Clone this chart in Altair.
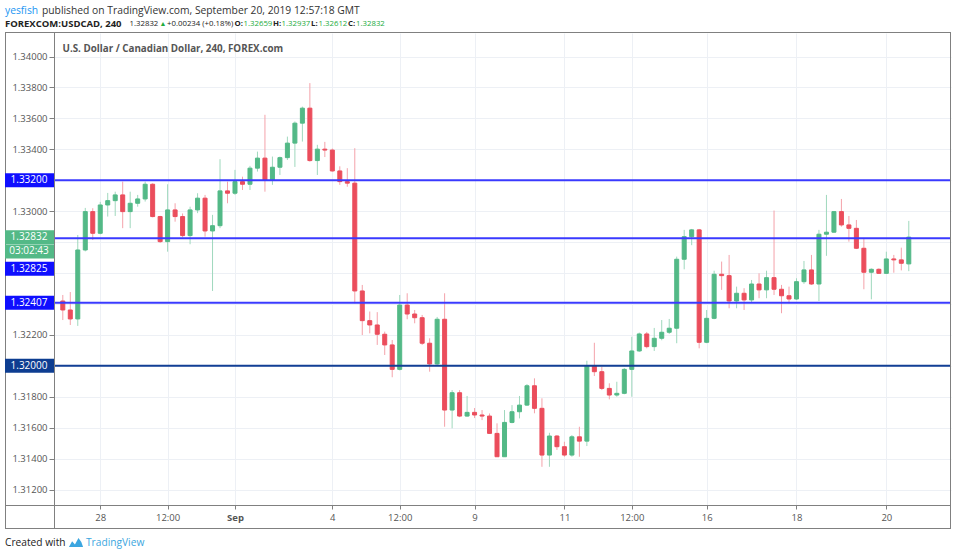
import altair as alt
import pandas as pd

# ---------------- data ----------------
opens = [1.32419, 1.32361, 1.32303, 1.32749, 1.32997, 1.32857, 1.33040, 1.33068, 1.33105, 1.32997,
         1.33051, 1.33079, 1.33174, 1.32965, 1.32803, 1.33008, 1.32965, 1.32842, 1.33008, 1.33084,
         1.32872, 1.32906, 1.33131, 1.33116, 1.33191, 1.33174, 1.33278, 1.33343, 1.33202, 1.33284,
         1.33346, 1.33440, 1.33569, 1.33666, 1.33327, 1.33401, 1.33395, 1.33260, 1.33191, 1.33181,
         1.32484, 1.32292, 1.32264, 1.32204, 1.32135, 1.31977, 1.32393, 1.32335, 1.32311, 1.32146,
         1.32012, 1.32301, 1.31714, 1.31826, 1.31675, 1.31699, 1.31682, 1.31675, 1.31563, 1.31412,
         1.31634, 1.31703, 1.31746, 1.31871, 1.31725, 1.31423, 1.31546, 1.31477, 1.31423, 1.31541,
         1.31513, 1.31999, 1.31962, 1.31854, 1.31811, 1.31822, 1.31977, 1.32096, 1.32206, 1.32124,
         1.32178, 1.32217, 1.32243, 1.32689, 1.32835, 1.32879, 1.32152, 1.32307, 1.32592, 1.32583,
         1.32419, 1.32469, 1.32426, 1.32529, 1.32491, 1.32570, 1.32495, 1.32453, 1.32432, 1.32544,
         1.32620, 1.32529, 1.32851, 1.32864, 1.32997, 1.32911, 1.32889, 1.32760, 1.32605, 1.32624,
         1.32598, 1.32691, 1.32685, 1.32659]
highs = [1.32458, 1.32477, 1.32846, 1.33021, 1.33019, 1.33060, 1.33118, 1.33126, 1.33191, 1.33126,
         1.33105, 1.33191, 1.33180, 1.32970, 1.33174, 1.33051, 1.32985, 1.33029, 1.33116, 1.33105,
         1.32976, 1.33336, 1.33191, 1.33267, 1.33223, 1.33293, 1.33385, 1.33623, 1.33353, 1.33353,
         1.33482, 1.33580, 1.33676, 1.33828, 1.33429, 1.33448, 1.33405, 1.33290, 1.33278, 1.33407,
         1.32523, 1.32351, 1.32347, 1.32221, 1.32167, 1.32458, 1.32469, 1.32361, 1.32329, 1.32178,
         1.32316, 1.32469, 1.31843, 1.31843, 1.31805, 1.31727, 1.31714, 1.31692, 1.31628, 1.31714,
         1.31746, 1.31805, 1.31882, 1.31919, 1.31790, 1.31567, 1.31552, 1.31509, 1.31552, 1.31606,
         1.32033, 1.32149, 1.31994, 1.31887, 1.31897, 1.31986, 1.32188, 1.32215, 1.32219, 1.32245,
         1.32296, 1.32303, 1.32706, 1.32879, 1.32885, 1.32885, 1.32361, 1.32615, 1.32674, 1.32717,
         1.32512, 1.32502, 1.32555, 1.32598, 1.32615, 1.33004, 1.32523, 1.32512, 1.32566, 1.32678,
         1.32717, 1.32879, 1.33105, 1.33000, 1.33079, 1.32969, 1.32943, 1.32825, 1.32630, 1.32630,
         1.32738, 1.32717, 1.32764, 1.32937]
lows = [1.32296, 1.32264, 1.32258, 1.32740, 1.32814, 1.32850, 1.32965, 1.32969, 1.32890, 1.32890,
        1.33029, 1.33062, 1.32960, 1.32795, 1.32738, 1.32932, 1.32830, 1.32786, 1.32987, 1.32835,
        1.32484, 1.32890, 1.33051, 1.33105, 1.33137, 1.33137, 1.33256, 1.33126, 1.33170, 1.33234,
        1.33331, 1.33286, 1.33450, 1.33320, 1.33234, 1.33350, 1.33255, 1.33170, 1.33158, 1.32404,
        1.32199, 1.32210, 1.32135, 1.32070, 1.31926, 1.31970, 1.32301, 1.32275, 1.32135, 1.31962,
        1.32005, 1.31606, 1.31596, 1.31668, 1.31671, 1.31662, 1.31649, 1.31559, 1.31412, 1.31412,
        1.31628, 1.31660, 1.31740, 1.31693, 1.31347, 1.31347, 1.31456, 1.31412, 1.31412, 1.31412,
        1.31481, 1.31934, 1.31843, 1.31783, 1.31800, 1.31816, 1.31800, 1.32090, 1.32113, 1.32096,
        1.32165, 1.32206, 1.32146, 1.32624, 1.32780, 1.32113, 1.32146, 1.32301, 1.32491, 1.32372,
        1.32372, 1.32361, 1.32409, 1.32437, 1.32437, 1.32458, 1.32340, 1.32404, 1.32426, 1.32530,
        1.32523, 1.32419, 1.32711, 1.32860, 1.32900, 1.32803, 1.32755, 1.32495, 1.32430, 1.32594,
        1.32594, 1.32602, 1.32617, 1.32612]
closes = [1.32361, 1.32303, 1.32749, 1.32997, 1.32857, 1.33040, 1.33068, 1.33105, 1.32997, 1.33051,
          1.33079, 1.33174, 1.32965, 1.32803, 1.33008, 1.32965, 1.32842, 1.33008, 1.33084, 1.32872,
          1.32906, 1.33131, 1.33116, 1.33191, 1.33174, 1.33278, 1.33343, 1.33202, 1.33284, 1.33346,
          1.33440, 1.33569, 1.33666, 1.33327, 1.33401, 1.33395, 1.33260, 1.33191, 1.33181, 1.32484,
          1.32292, 1.32264, 1.32204, 1.32135, 1.31977, 1.32393, 1.32335, 1.32311, 1.32146, 1.32012,
          1.32301, 1.31714, 1.31826, 1.31675, 1.31699, 1.31682, 1.31675, 1.31563, 1.31412, 1.31634,
          1.31703, 1.31746, 1.31871, 1.31725, 1.31423, 1.31546, 1.31477, 1.31423, 1.31541, 1.31513,
          1.31999, 1.31962, 1.31854, 1.31811, 1.31822, 1.31977, 1.32096, 1.32206, 1.32124, 1.32178,
          1.32217, 1.32243, 1.32689, 1.32835, 1.32879, 1.32152, 1.32307, 1.32592, 1.32583, 1.32419,
          1.32469, 1.32426, 1.32529, 1.32491, 1.32570, 1.32495, 1.32453, 1.32432, 1.32544, 1.32620,
          1.32529, 1.32851, 1.32864, 1.32997, 1.32911, 1.32889, 1.32760, 1.32605, 1.32624, 1.32598,
          1.32691, 1.32685, 1.32663, 1.32832]

x_tick_index = [5, 14, 23, 36, 45, 55, 67, 76, 86, 98, 110]
x_tick_labels = ["28", "12:00", "Sep", "4", "12:00", "9", "11", "12:00", "16", "18", "20"]
y_tick_values = [1.312, 1.314, 1.316, 1.318, 1.320, 1.322, 1.324, 1.326, 1.328,
                 1.330, 1.332, 1.334, 1.336, 1.338, 1.340]
# axis labels hidden behind the price boxes on the scale
y_hidden_labels = ["1.32000", "1.32400", "1.32600", "1.32800", "1.33200"]

level_prices = [1.33200, 1.32407, 1.32000]
level_labels = ["1.33200", "1.32407", "1.32000"]
level2_price = [1.32825]
level2_label = ["1.32825"]
last_price = [1.32832]
last_label = ["1.32832"]
countdown = ["03:02:43"]

# ---------------- styles ----------------
FONT = "Open Sans"
UP, DOWN = "#53b987", "#eb4d5c"
UP_W, DOWN_W = "#9fd8bd", "#f4a2aa"
BLUE, NAVY = "#3a3aff", "#123f95"
BOX_BLUE, BOX_NAVY = "#0f0fff", "#0d3d91"
GRID = "#edf0f5"
FRAME = "#808080"

W, H = 897, 472

candles = pd.DataFrame({"i": list(range(len(opens))), "o": opens, "h": highs, "l": lows, "c": closes})

x_label_expr = " : ".join(f"datum.value == {v} ? '{t}'" for v, t in zip(x_tick_index, x_tick_labels)) + " : ''"
hidden = "[" + ",".join(f"'{s}'" for s in y_hidden_labels) + "]"
y_label_expr = f"indexof({hidden}, format(datum.value, '.5f')) >= 0 ? '' : format(datum.value, '.5f')"

xscale = alt.Scale(domain=[-0.5085, 117.97], nice=False, zero=False)
yscale = alt.Scale(domain=[1.311, 1.34152], nice=False, zero=False)

x_axis = alt.Axis(values=x_tick_index, labelExpr=x_label_expr, grid=True, gridColor=GRID,
                  domain=False, tickColor=FRAME, tickSize=4, labelPadding=3,
                  labelFont=FONT, labelFontSize=9.5, labelColor="#555555", title=None,
                  labelFontWeight={"condition": {"test": "datum.value == 23", "value": "bold"}, "value": "normal"})
y_axis = alt.Axis(values=y_tick_values, labelExpr=y_label_expr, grid=True, gridColor=GRID,
                  domain=False, tickColor=FRAME, tickSize=5, labelPadding=2,
                  labelFont=FONT, labelFontSize=9.5, labelColor="#555555", title=None)


def X(field):
    return alt.X(field, scale=xscale, axis=x_axis)


def Y(field):
    return alt.Y(field, scale=yscale, axis=y_axis)


up_test = "datum.c >= datum.o"

wicks = alt.Chart(candles).mark_rule(strokeWidth=1).encode(
    x=X("i:Q"), y=Y("l:Q"), y2="h:Q",
    color=alt.condition(up_test, alt.value(UP_W), alt.value(DOWN_W)),
)
bodies = alt.Chart(candles).mark_bar(size=4, strokeWidth=1).encode(
    x=X("i:Q"), y=Y("o:Q"), y2="c:Q",
    fill=alt.condition(up_test, alt.value(UP), alt.value(DOWN)),
    stroke=alt.condition(up_test, alt.value(UP), alt.value(DOWN)),
)

levels_df = pd.DataFrame({"price": level_prices, "label": level_labels})
level2_df = pd.DataFrame({"price": level2_price, "label": level2_label})
last_df = pd.DataFrame({"price": last_price, "label": last_label, "cd": countdown})

navy_test = "datum.price == 1.32"
lines = alt.Chart(levels_df).mark_rule(strokeWidth=2).encode(
    x=alt.value(0), x2=alt.value(W), y=Y("price:Q"),
    color=alt.condition(navy_test, alt.value(NAVY), alt.value(BLUE)),
)
line2 = alt.Chart(level2_df).mark_rule(strokeWidth=2, color=BLUE).encode(
    x=alt.value(0), x2=alt.value(W), y=Y("price:Q"),
)

box_kw = dict(orient="vertical", thickness=49, size=14, opacity=1)
txt_kw = dict(font=FONT, fontSize=10, color="white", align="center", baseline="middle")

level_boxes = alt.Chart(levels_df).mark_tick(**box_kw).encode(
    x=alt.value(-24.5), y=Y("price:Q"),
    color=alt.condition(navy_test, alt.value(BOX_NAVY), alt.value(BOX_BLUE)),
)
level_texts = alt.Chart(levels_df).mark_text(**txt_kw).encode(
    x=alt.value(-25), y=Y("price:Q"), text="label:N")

level2_box = alt.Chart(level2_df).mark_tick(yOffset=30.5, color=BOX_BLUE, **box_kw).encode(
    x=alt.value(-24.5), y=Y("price:Q"))
level2_text = alt.Chart(level2_df).mark_text(yOffset=30.5, **txt_kw).encode(
    x=alt.value(-25), y=Y("price:Q"), text="label:N")

last_box = alt.Chart(last_df).mark_tick(color=UP, **box_kw).encode(
    x=alt.value(-24.5), y=Y("price:Q"))
last_text = alt.Chart(last_df).mark_text(**txt_kw).encode(
    x=alt.value(-25), y=Y("price:Q"), text="label:N")
cd_box = alt.Chart(last_df).mark_tick(yOffset=14.3, color=UP, **box_kw).encode(
    x=alt.value(-24.5), y=Y("price:Q"))
cd_text = alt.Chart(last_df).mark_text(yOffset=14.3, **txt_kw).encode(
    x=alt.value(-25), y=Y("price:Q"), text="cd:N")


def hrule(x1, x2, y, color=FRAME, width=1):
    return alt.Chart(pd.DataFrame({"k": [0]})).mark_rule(color=color, strokeWidth=width).encode(
        x=alt.value(x1), x2=alt.value(x2), y=alt.value(y))


def vrule(x, y1, y2, color=FRAME, width=1):
    return alt.Chart(pd.DataFrame({"k": [0]})).mark_rule(color=color, strokeWidth=width).encode(
        x=alt.value(x), y=alt.value(y1), y2=alt.value(y2))


def txt(s, x, y, size=10, color="#333333", weight="normal", align="left", font=FONT):
    return alt.Chart(pd.DataFrame({"t": [s]})).mark_text(
        font=font, fontSize=size, color=color, fontWeight=weight, align=align, baseline="middle"
    ).encode(x=alt.value(x), y=alt.value(y), text="t:N")


frame = [
    hrule(-49, W, -0.5),
    hrule(-49, W, 472.5),
    hrule(-49, W, 495.5),
    vrule(-48.5, -0.5, 495.5),
    vrule(0.5, -0.5, 495.5),
    vrule(W - 0.5, -0.5, 495.5),
]

GREEN_TXT = "#22ab3c"
DARK = "#222222"
hx = -54
NS = 7.8
header = [
    txt("yesfish", hx + 5, -22, size=10.3, color="#2196f3"),
    txt("published on TradingView.com, September 20, 2019 12:57:18 GMT", hx + 42, -22, size=10.3),
    txt("FOREXCOM:USDCAD, 240", hx + 5, -9, size=9.5, color=DARK, weight="bold"),
    txt("1.32832", hx + 129.5, -9, size=NS, color=DARK),
    txt("▲", hx + 159.5, -9, size=7, color=GREEN_TXT),
    txt("+0.00234 (+0.18%)", hx + 167, -9, size=NS, color=DARK),
    txt("O:", hx + 234.5, -9, size=NS, color=DARK, weight="bold"),
    txt("1.32659", hx + 243.5, -9, size=NS, color=GREEN_TXT),
    txt("H:", hx + 273, -9, size=NS, color=DARK, weight="bold"),
    txt("1.32937", hx + 281.5, -9, size=NS, color=GREEN_TXT),
    txt("L:", hx + 311, -9, size=NS, color=DARK, weight="bold"),
    txt("1.32612", hx + 318.5, -9, size=NS, color=GREEN_TXT),
    txt("C:", hx + 348, -9, size=NS, color=DARK, weight="bold"),
    txt("1.32832", hx + 356, -9, size=NS, color=GREEN_TXT),
    txt("U.S. Dollar / Canadian Dollar, 240, FOREX.com", 8.5, 16, size=9.8, color="#555555", weight="bold"),
    txt("Created with", hx + 5, 510, size=10.2, color=DARK),
    txt("TradingView", hx + 86, 510, size=10.2, color="#3ba6e0"),
]

logo = alt.Chart(pd.DataFrame({"k": [0]})).mark_point(
    shape="M-1,0.7 L-0.55,-0.1 L-0.15,0.35 L0.35,-0.55 L0.75,0 L1,0.7 Z",
    filled=True, size=200, color="#3ba6e0", opacity=1
).encode(x=alt.value(hx + 76), y=alt.value(509))

chart = alt.layer(
    wicks, bodies, lines, line2, *frame,
    level_boxes, level_texts, last_box, last_text, cd_box, cd_text, level2_box, level2_text,
    *header, logo,
).properties(
    width=W, height=H,
    autosize=alt.AutoSizeParams(type="none"),
    padding={"left": 54, "top": 33, "right": 9, "bottom": 53},
    background="white",
).configure_view(stroke=None)

chart.save("out.html", embed_options={"renderer": "svg", "actions": False})
